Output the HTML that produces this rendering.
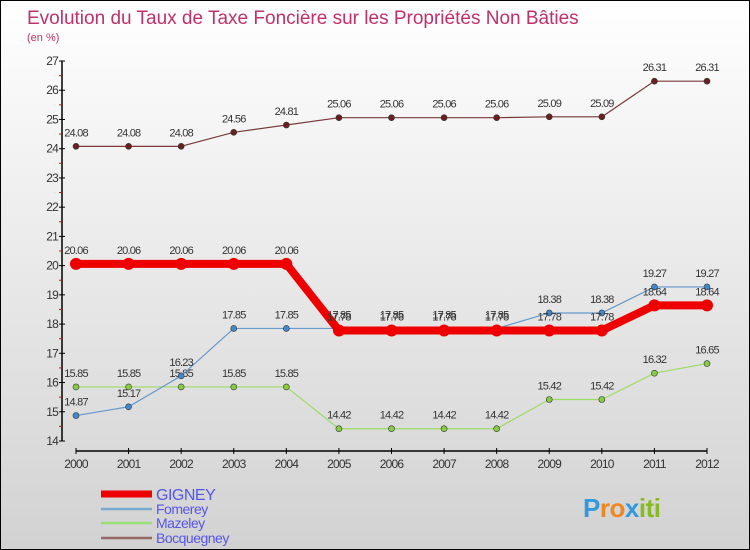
<!DOCTYPE html>
<html><head><meta charset="utf-8"><style>
body{margin:0}
#c{width:750px;height:550px;position:relative;overflow:hidden;box-sizing:border-box;border:1px solid #000;background:linear-gradient(#ffffff,#d2d2d2);font-family:"Liberation Sans",sans-serif}
svg{position:absolute;left:0;top:0}
</style></head><body>
<div id="c">
<svg id="s" width="750" height="550">
<text x="26" y="23" font-size="19" fill="#c0306a">Evolution du Taux de Taxe Foncière sur les Propriétés Non Bâties</text>
<text x="26" y="40" font-size="11" fill="#c0306a">(en %)</text>
</svg>
</div>
<script>
const years=[2000,2001,2002,2003,2004,2005,2006,2007,2008,2009,2010,2011,2012];
const gigney=[20.06,20.06,20.06,20.06,20.06,17.78,17.78,17.78,17.78,17.78,17.78,18.64,18.64];
const fomerey=[14.87,15.17,16.23,17.85,17.85,17.85,17.85,17.85,17.85,18.38,18.38,19.27,19.27];
const mazeley=[15.85,15.85,15.85,15.85,15.85,14.42,14.42,14.42,14.42,15.42,15.42,16.32,16.65];
const bocquegney=[24.08,24.08,24.08,24.56,24.81,25.06,25.06,25.06,25.06,25.09,25.09,26.31,26.31];
const yTicks=[14,15,16,17,18,19,20,21,22,23,24,25,26,27];
const seriesNames=["GIGNEY","Fomerey","Mazeley","Bocquegney"];
const NS="http://www.w3.org/2000/svg";
const s=document.getElementById('s');
const X=i=>75+i*(706-75)/(years.length-1);
const Y=v=>440-(v-14)*(380/13);
function el(t,a,p){const e=document.createElementNS(NS,t);for(const k in a)e.setAttribute(k,a[k]);(p||s).appendChild(e);return e;}
// axes
let ya=el('line',{x1:61,y1:Y(27),x2:61,y2:Y(14),stroke:'#000','stroke-width':1.5});


let xa=el('line',{x1:75,y1:450,x2:706,y2:450,stroke:'#000','stroke-width':1.5});


yTicks.forEach(v=>{
 el('line',{x1:58,x2:64,y1:Y(v),y2:Y(v),stroke:'#000'});
 if(v<27) el('line',{x1:58,x2:61,y1:Y(v+0.5),y2:Y(v+0.5),stroke:'#e00'});
 const t=el('text',{x:57,y:Y(v)+4,'text-anchor':'end','font-size':12,fill:'#333','letter-spacing':'-0.8'});
 t.textContent=v;
 
 
});
years.forEach((yr,i)=>{
 el('line',{x1:X(i),x2:X(i),y1:447,y2:453,stroke:'#000'});
 const t=el('text',{x:X(i),y:467,'text-anchor':'middle','font-size':12,fill:'#333','letter-spacing':'-0.8'});
 t.textContent=yr;
 
 
});
function series(vals,color,width,r,fill,name){
 const g=el('g',{});
 
 
 el('polyline',{points:vals.map((v,i)=>X(i)+','+Y(v)).join(' '),fill:'none',stroke:color,'stroke-width':width,'stroke-linejoin':'round'},g);
 vals.forEach((v,i)=>{
  const c=el('circle',{cx:X(i),cy:Y(v),r:r,fill:fill,stroke:'#333','stroke-width':r>5?0:0.6},g);
  
  
  const t=el('text',{x:X(i),y:Y(v)-10,'text-anchor':'middle','font-size':11,fill:'#333','letter-spacing':'-0.8'},g);
  t.textContent=v;
  
  
 });
}
series(bocquegney,'#7a3a3a',1.2,3,'#6a2020','bocquegney');
series(mazeley,'#99dd66',1.2,3,'#88cc44','mazeley');
series(fomerey,'#6699cc',1.2,3,'#4488cc','fomerey');
series(gigney,'#ee0000',8,6,'#ee0000','gigney');
// legend
const lc=[['#ee0000',7,'#ee0000'],['#77aacc',2.5],['#99dd77',2.5],['#996666',2.5]];
seriesNames.forEach((n,i)=>{
 const y=[493,508,522,537][i];
 const g=el('g',{});
 
 
 el('line',{x1:100,x2:151,y1:y,y2:y,stroke:lc[i][0],'stroke-width':lc[i][1]},g);
 const t=el('text',{x:155,y:y+(i==0?6:5),'font-size':i==0?16:14,fill:'#5555ee','letter-spacing':'-0.5'},g);
 t.textContent=n;
});
// logo
const lg=el('text',{x:582,y:516,'font-size':26,'font-weight':'bold','letter-spacing':'-0.5'});


[['P','#3399dd'],['r','#ee8822'],['o','#ee8822'],['x','#3399dd'],['i','#88bb22'],['t','#88bb22'],['i','#88bb22']].forEach(([ch,col])=>{const sp=el('tspan',{fill:col},lg);sp.textContent=ch;});
</script>
</body></html>
